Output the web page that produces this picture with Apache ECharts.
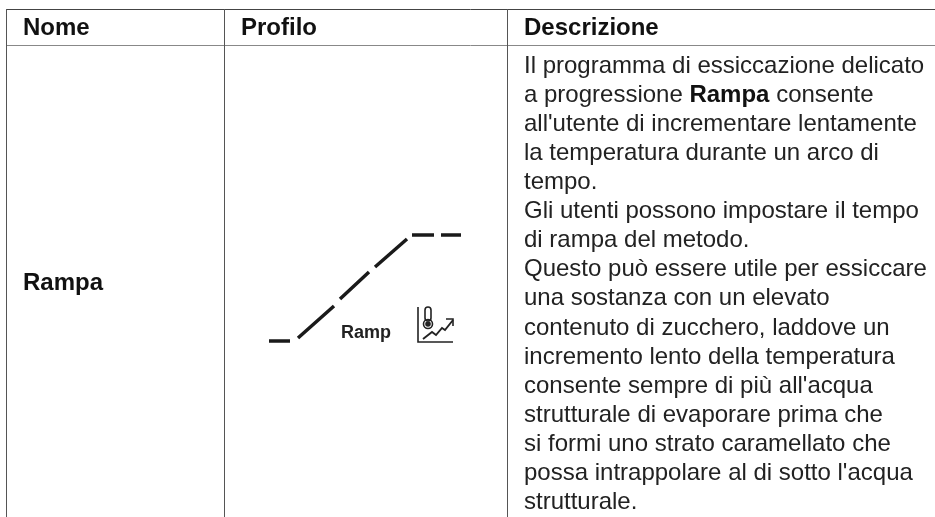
<!DOCTYPE html>
<html>
<head>
<meta charset="utf-8">
<style>
html, body { margin: 0; padding: 0; background: #fff; }
#chart { width: 935px; height: 517px; }
</style>
<script src="https://cdn.jsdelivr.net/npm/echarts@6/dist/echarts.min.js"></script>
</head>
<body>
<div id="chart"></div>
<script>
// table texts
var headers = ['Nome', 'Profilo', 'Descrizione'];
var rowName = 'Rampa';
var profileLabel = 'Ramp';
var descLines = [
    'Il programma di essiccazione delicato',
    'a progressione {b|Rampa} consente',
    "all'utente di incrementare lentamente",
    'la temperatura durante un arco di',
    'tempo.',
    'Gli utenti possono impostare il tempo',
    'di rampa del metodo.',
    'Questo può essere utile per essiccare',
    'una sostanza con un elevato',
    'contenuto di zucchero, laddove un',
    'incremento lento della temperatura',
    "consente sempre di più all'acqua",
    'strutturale di evaporare prima che',
    'si formi uno strato caramellato che',
    "possa intrappolare al di sotto l'acqua",
    'strutturale.'
];

// temperature profile, null = gap between the dashes
var profileTime = [0, 21, null, 29, 65, null, 71, 100, null, 106, 138, null, 143, 165, null, 172, 192];
var profileTemp = [0, 0, null, 3, 35, null, 42, 69, null, 74, 102, null, 106, 106, null, 106, 106];

var FONT = '"Liberation Sans", Arial, sans-serif';

function borderLine(x1, y1, x2, y2, color) {
    return {
        type: 'line',
        shape: {x1: x1, y1: y1, x2: x2, y2: y2},
        style: {stroke: color, lineWidth: 1}
    };
}

function cellText(x, y, text, bold) {
    return {
        type: 'text',
        x: x,
        y: y,
        style: {
            text: text,
            fill: '#111',
            font: (bold ? 'bold ' : '') + '24px ' + FONT,
            textVerticalAlign: 'middle'
        }
    };
}

function buildGraphic() {
    var items = [
        borderLine(6, 9.5, 935, 9.5, '#444'),
        borderLine(6, 45.5, 935, 45.5, '#888'),
        borderLine(6.5, 9, 6.5, 517, '#555'),
        borderLine(224.5, 9, 224.5, 517, '#555'),
        borderLine(507.5, 9, 507.5, 517, '#555')
    ];
    items.push(cellText(23, 28, headers[0], true));
    items.push(cellText(241, 28, headers[1], true));
    items.push(cellText(524, 28, headers[2], true));
    items.push(cellText(23, 283, rowName, true));

    // the description is one block so the bold word stays inline
    items.push({
        type: 'text',
        x: 524,
        y: 51.5,
        style: {
            text: descLines.join('\n'),
            fill: '#222',
            font: '24px ' + FONT,
            lineHeight: 29.1,
            rich: {
                b: {font: 'bold 24px ' + FONT, fill: '#111', lineHeight: 29.1}
            }
        }
    });

    items.push({
        type: 'text',
        x: 341,
        y: 333,
        style: {
            text: profileLabel,
            fill: '#222',
            font: 'bold 18px ' + FONT,
            textVerticalAlign: 'middle'
        }
    });

    // little thermometer icon next to the label
    var icon = {stroke: '#222', fill: 'none', lineWidth: 1.6};
    items.push({type: 'polyline', shape: {points: [[418, 307], [418, 342], [453, 342]]}, style: icon});
    items.push({type: 'rect', shape: {x: 425, y: 307, width: 6, height: 14, r: 3}, style: icon});
    items.push({type: 'circle', shape: {cx: 428, cy: 324, r: 4.5}, style: icon});
    items.push({type: 'circle', shape: {cx: 428, cy: 324, r: 2.8}, style: {fill: '#222'}});
    items.push({
        type: 'polyline',
        shape: {points: [[423, 339], [432, 332], [436, 335], [442, 328], [445, 330], [453, 320]]},
        style: {stroke: '#222', fill: 'none', lineWidth: 1.9}
    });
    items.push({type: 'polyline', shape: {points: [[446, 319], [453, 319], [453, 326]]}, style: icon});
    return items;
}

var chart = echarts.init(document.getElementById('chart'), null, {renderer: 'canvas'});

var points = [];
for (var i = 0; i < profileTime.length; i++) {
    points.push(profileTime[i] === null ? [null, null] : [profileTime[i], profileTemp[i]]);
}

var option = {
    animation: false,
    backgroundColor: '#fff',
    grid: {left: 269, top: 235, width: 192, height: 106},
    xAxis: {type: 'value', min: 0, max: 192, show: false},
    yAxis: {type: 'value', min: 0, max: 106, show: false},
    series: [{
        type: 'line',
        data: points,
        connectNulls: false,
        showSymbol: false,
        clip: false,
        lineStyle: {color: '#1a1a1a', width: 3.5, cap: 'butt'}
    }],
    graphic: buildGraphic()
};
chart.setOption(option);
</script>
</body>
</html>
